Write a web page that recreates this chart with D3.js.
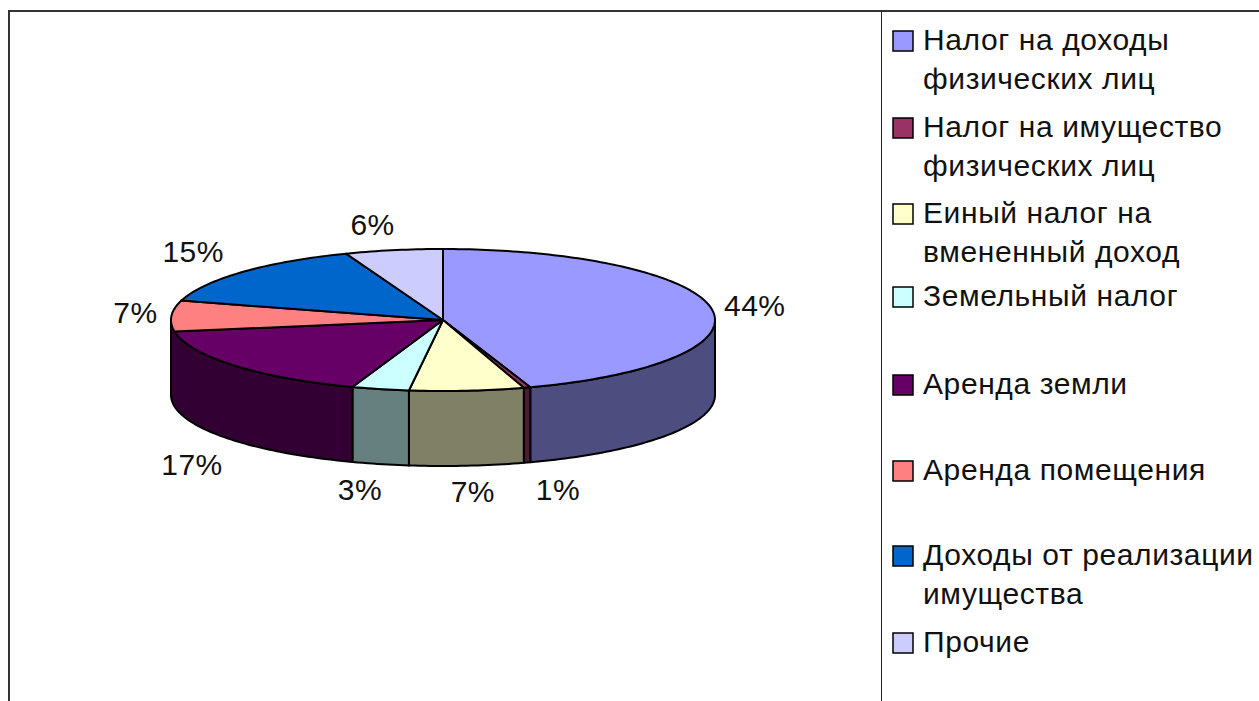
<!DOCTYPE html>
<html><head><meta charset="utf-8">
<script src="https://cdn.jsdelivr.net/npm/d3@7/dist/d3.min.js"></script>
<style>html,body{margin:0;padding:0;background:#fff}svg{display:block}text{font-family:"Liberation Sans",Arial,sans-serif;fill:#111}</style>
</head><body><svg id="c" width="1259" height="701"></svg>
<script>
const categories = ["Налог на доходы физических лиц","Налог на имущество физических лиц","Еиный налог на вмененный доход","Земельный налог","Аренда земли","Аренда помещения","Доходы от реализации имущества","Прочие"];
const legendLines = [["Налог на доходы","физических лиц"],["Налог на имущество","физических лиц"],["Еиный налог на","вмененный доход"],["Земельный налог"],["Аренда земли"],["Аренда помещения"],["Доходы от реализации","имущества"],["Прочие"]];
// slice shares as they are drawn in the picture
const values = [44.8,0.4,6.8,3.4,17.0,7.0,14.8,5.8];
// printed labels
const percentLabels = ["44%","1%","7%","3%","17%","7%","15%","6%"];
const colors = ["#9999FF","#993366","#FFFFCC","#CCFFFF","#660066","#FF8080","#0066CC","#CCCCFF"];
const sideColors = ["#4D4D80","#4D1A33","#808066","#668080","#330033","#804040","#003366","#666680"];

// layout
const cx=443, cy=320, rx=272, ry=71, depth=75;
const legendRowY=[41,128,214,297,385,471,556,643];
const legendLineH=39;
const labelNudge=[[-1,2],[17,0],[2,-2],[-10,-2],[-8,6],[9,-1.5],[-16,-2],[-13,2]];

const svg=d3.select("#c");
// frame
const frame=[[8.5,701,8.5,10.5],[7.5,10.5,1259,10.5],[881,11,881,701]];
svg.selectAll("line.f").data(frame).join("line").attr("class","f")
  .attr("x1",d=>d[0]).attr("y1",d=>d[1]).attr("x2",d=>d[2]).attr("y2",d=>d[3])
  .attr("stroke",(d,i)=>i==2?"#222":"#333").attr("stroke-width",(d,i)=>i==2?1:2).attr("shape-rendering","crispEdges");

const arcs=d3.pie().sort(null).value(d=>d)(values);
const px=a=>cx+rx*Math.sin(a), py=(a,dz=0)=>cy-ry*Math.cos(a)+dz;
const line=d3.line().x(d=>d[0]).y(d=>d[1]);
const samples=(a0,a1)=>{const n=Math.max(2,Math.ceil((a1-a0)/0.02));return d3.range(n+1).map(i=>a0+(a1-a0)*i/n);};
const mid=d=>(d.startAngle+d.endAngle)/2;

// side walls: front half only; a slice centred on the back-left has no wall, its neighbour runs to the edge
const walls=arcs.filter(d=>mid(d)<Math.PI*1.5).map(d=>{
    const next=arcs[d.index+1];
    const toEdge=d.endAngle<Math.PI*1.5&&mid(next)>=Math.PI*1.5;
    return {i:d.index,a0:Math.max(d.startAngle,Math.PI/2),a1:toEdge?Math.PI*1.5:Math.min(d.endAngle,Math.PI*1.5)};
  }).filter(w=>w.a1>w.a0);
svg.append("g").selectAll("path").data(walls).join("path")
  .attr("d",w=>{const s=samples(w.a0,w.a1);
    return line(s.map(a=>[px(a),py(a)]).concat(s.slice().reverse().map(a=>[px(a),py(a,depth)])))+"Z";})
  .attr("fill",w=>sideColors[w.i]).attr("stroke","#000").attr("stroke-width",2).attr("stroke-linejoin","round");

// top faces
svg.append("g").selectAll("path").data(arcs).join("path")
  .attr("d",d=>{const s=samples(d.startAngle,d.endAngle);
    return line([[cx,cy]].concat(s.map(a=>[px(a),py(a)])))+"Z";})
  .attr("fill",(d,i)=>colors[i]).attr("stroke","#000").attr("stroke-width",2).attr("stroke-linejoin","round");

// percent labels
svg.append("g").selectAll("text").data(arcs).join("text")
  .attr("x",(d,i)=>{const a=mid(d);return px(a)+45*Math.sin(a)+labelNudge[i][0];})
  .attr("y",(d,i)=>{const a=mid(d);return py(a,Math.abs(a-Math.PI)<Math.PI/2?depth:0)-28*Math.cos(a)+labelNudge[i][1];})
  .attr("text-anchor","middle").attr("dominant-baseline","central").attr("font-size",30).attr("letter-spacing","0.5px")
  .text((d,i)=>percentLabels[i]);

// legend
const lg=svg.append("g").selectAll("g").data(categories).join("g");
lg.append("rect").attr("x",893).attr("y",(d,i)=>legendRowY[i]-10).attr("width",20).attr("height",20)
  .attr("fill",(d,i)=>colors[i]).attr("stroke","#000").attr("stroke-width",1.5);
lg.each(function(d,i){
  d3.select(this).selectAll("text").data(legendLines[i]).join("text")
    .attr("x",923).attr("y",(t,j)=>legendRowY[i]+8.5+j*legendLineH)
    .attr("font-size",30).attr("letter-spacing","0.6px").text(t=>t);
});
</script></body></html>
